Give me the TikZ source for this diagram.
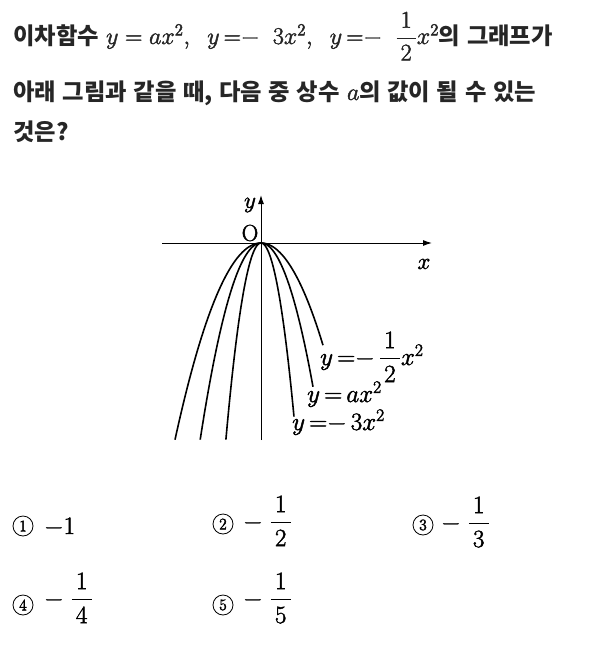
\RequirePackage{fix-cm}
\documentclass[tikz,border=0pt]{standalone}
\usepackage{amsmath}
\usepackage{fontspec}
\newfontfamily\kr{Noto Sans CJK KR}[Scale=0.97, WordSpace=1.25]
\definecolor{InkGray}{rgb}{0.15, 0.15, 0.15}
\usetikzlibrary{
	positioning,
	arrows.meta
}
\newcommand{\hg}[1]{{\kr\bfseries #1}}
\newcommand{\wfrac}[2]{\dfrac{\,#1\,}{\,#2\,}}
% slightly heavier strokes for the math glyphs
\newcommand{\hv}[1]{\special{pdf:literal direct 2 Tr 0.45 w}#1\special{pdf:literal direct 0 Tr 0.4 w}}

\begin{document}
\begin{tikzpicture}[
	x=1pt, y=-1pt,
	line/.style={font=\fontsize{24}{29}\selectfont, text=InkGray, anchor=base west, inner sep=0pt},
	axis/.style={line width=1pt, -{Latex[length=9pt, width=6pt]}},
	curve/.style={line width=1.6pt, smooth, samples=80},
	lbl/.style={font={\fontsize{23}{28}\selectfont}, inner sep=0pt},
	eqn/.style={lbl, font={\fontsize{25}{30}\selectfont\thickmuskip=3mu}, anchor=base west},
	circnum/.style={circle, draw, line width=0.8pt, inner sep=0pt, minimum size=20pt, font=\fontsize{16}{19}\selectfont},
	choice/.style={font=\fontsize{25}{30}\selectfont, anchor=base west, inner sep=0pt}
]
	\useasboundingbox (0,0) rectangle (608,648);

	\node[line] (q1) at (13,44) {\hg{이차함수} \hv{$y = ax^2,\;\; y\,{=}{-}\;\;3x^2,\;\; y\,{=}{-}\;\;\wfrac{1}{2}x^2$}\hg{의 그래프가}};
	\node[line] (q2) at (13,100) {\hg{아래 그림과 같을 때, 다음 중 상수} \hv{$a$}\hg{의 값이 될 수 있는}};
	\node[line] (q3) at (13,140) {\hg{것은?}};

	\coordinate (xl) at (162,243);
	\coordinate (xr) at (432,243);
	\coordinate (yb) at (261,440);
	\coordinate (yt) at (261,195);
	\draw[axis] (xl) -- (xr);
	\draw[axis] (yb) -- (yt);
	\node[lbl] (ylab) at (250,205) {\hv{$y$}};
	\node[lbl] (olab) at (250,233) {\hv{O}};
	\node[lbl] (xlab) at (424,264) {\hv{$x$}};

	\begin{scope}[shift={(261,243)}, x=18.8pt, y=18.8pt]
		\draw[curve] plot[domain=-4.574:3.298] (\x, {-0.5*\x*\x});
		\draw[curve] plot[domain=-3.234:2.766] (\x, {-\x*\x});
		\draw[curve] plot[domain=-1.867:1.755] (\x, {-3*\x*\x});
	\end{scope}

	\node[eqn] (lhalf) at (320,365) {\hv{$y=\mathrel{-}\wfrac{1}{2}x^2$}};
	\node[eqn] (la) at (307,402) {\hv{$y=ax^2$}};
	\node[eqn] (lthree) at (292,430) {\hv{$y=\mathrel{-}3x^2$}};

	\node[circnum] (c1) at (23,526) {\hv{1}};
	\node[choice] (v1) at (44,534) {\hv{$-1$}};
	\node[circnum] (c2) at (223,524) {\hv{2}};
	\node[choice] (v2) at (243,529) {\hv{$-\;\wfrac{1}{2}$}};
	\node[circnum] (c3) at (423,525) {\hv{3}};
	\node[choice] (v3) at (441,530) {\hv{$-\;\wfrac{1}{3}$}};
	\node[circnum] (c4) at (23,605) {\hv{4}};
	\node[choice] (v4) at (44,606) {\hv{$-\;\wfrac{1}{4}$}};
	\node[circnum] (c5) at (223,605) {\hv{5}};
	\node[choice] (v5) at (243,606) {\hv{$-\;\wfrac{1}{5}$}};

\end{tikzpicture}
\end{document}
